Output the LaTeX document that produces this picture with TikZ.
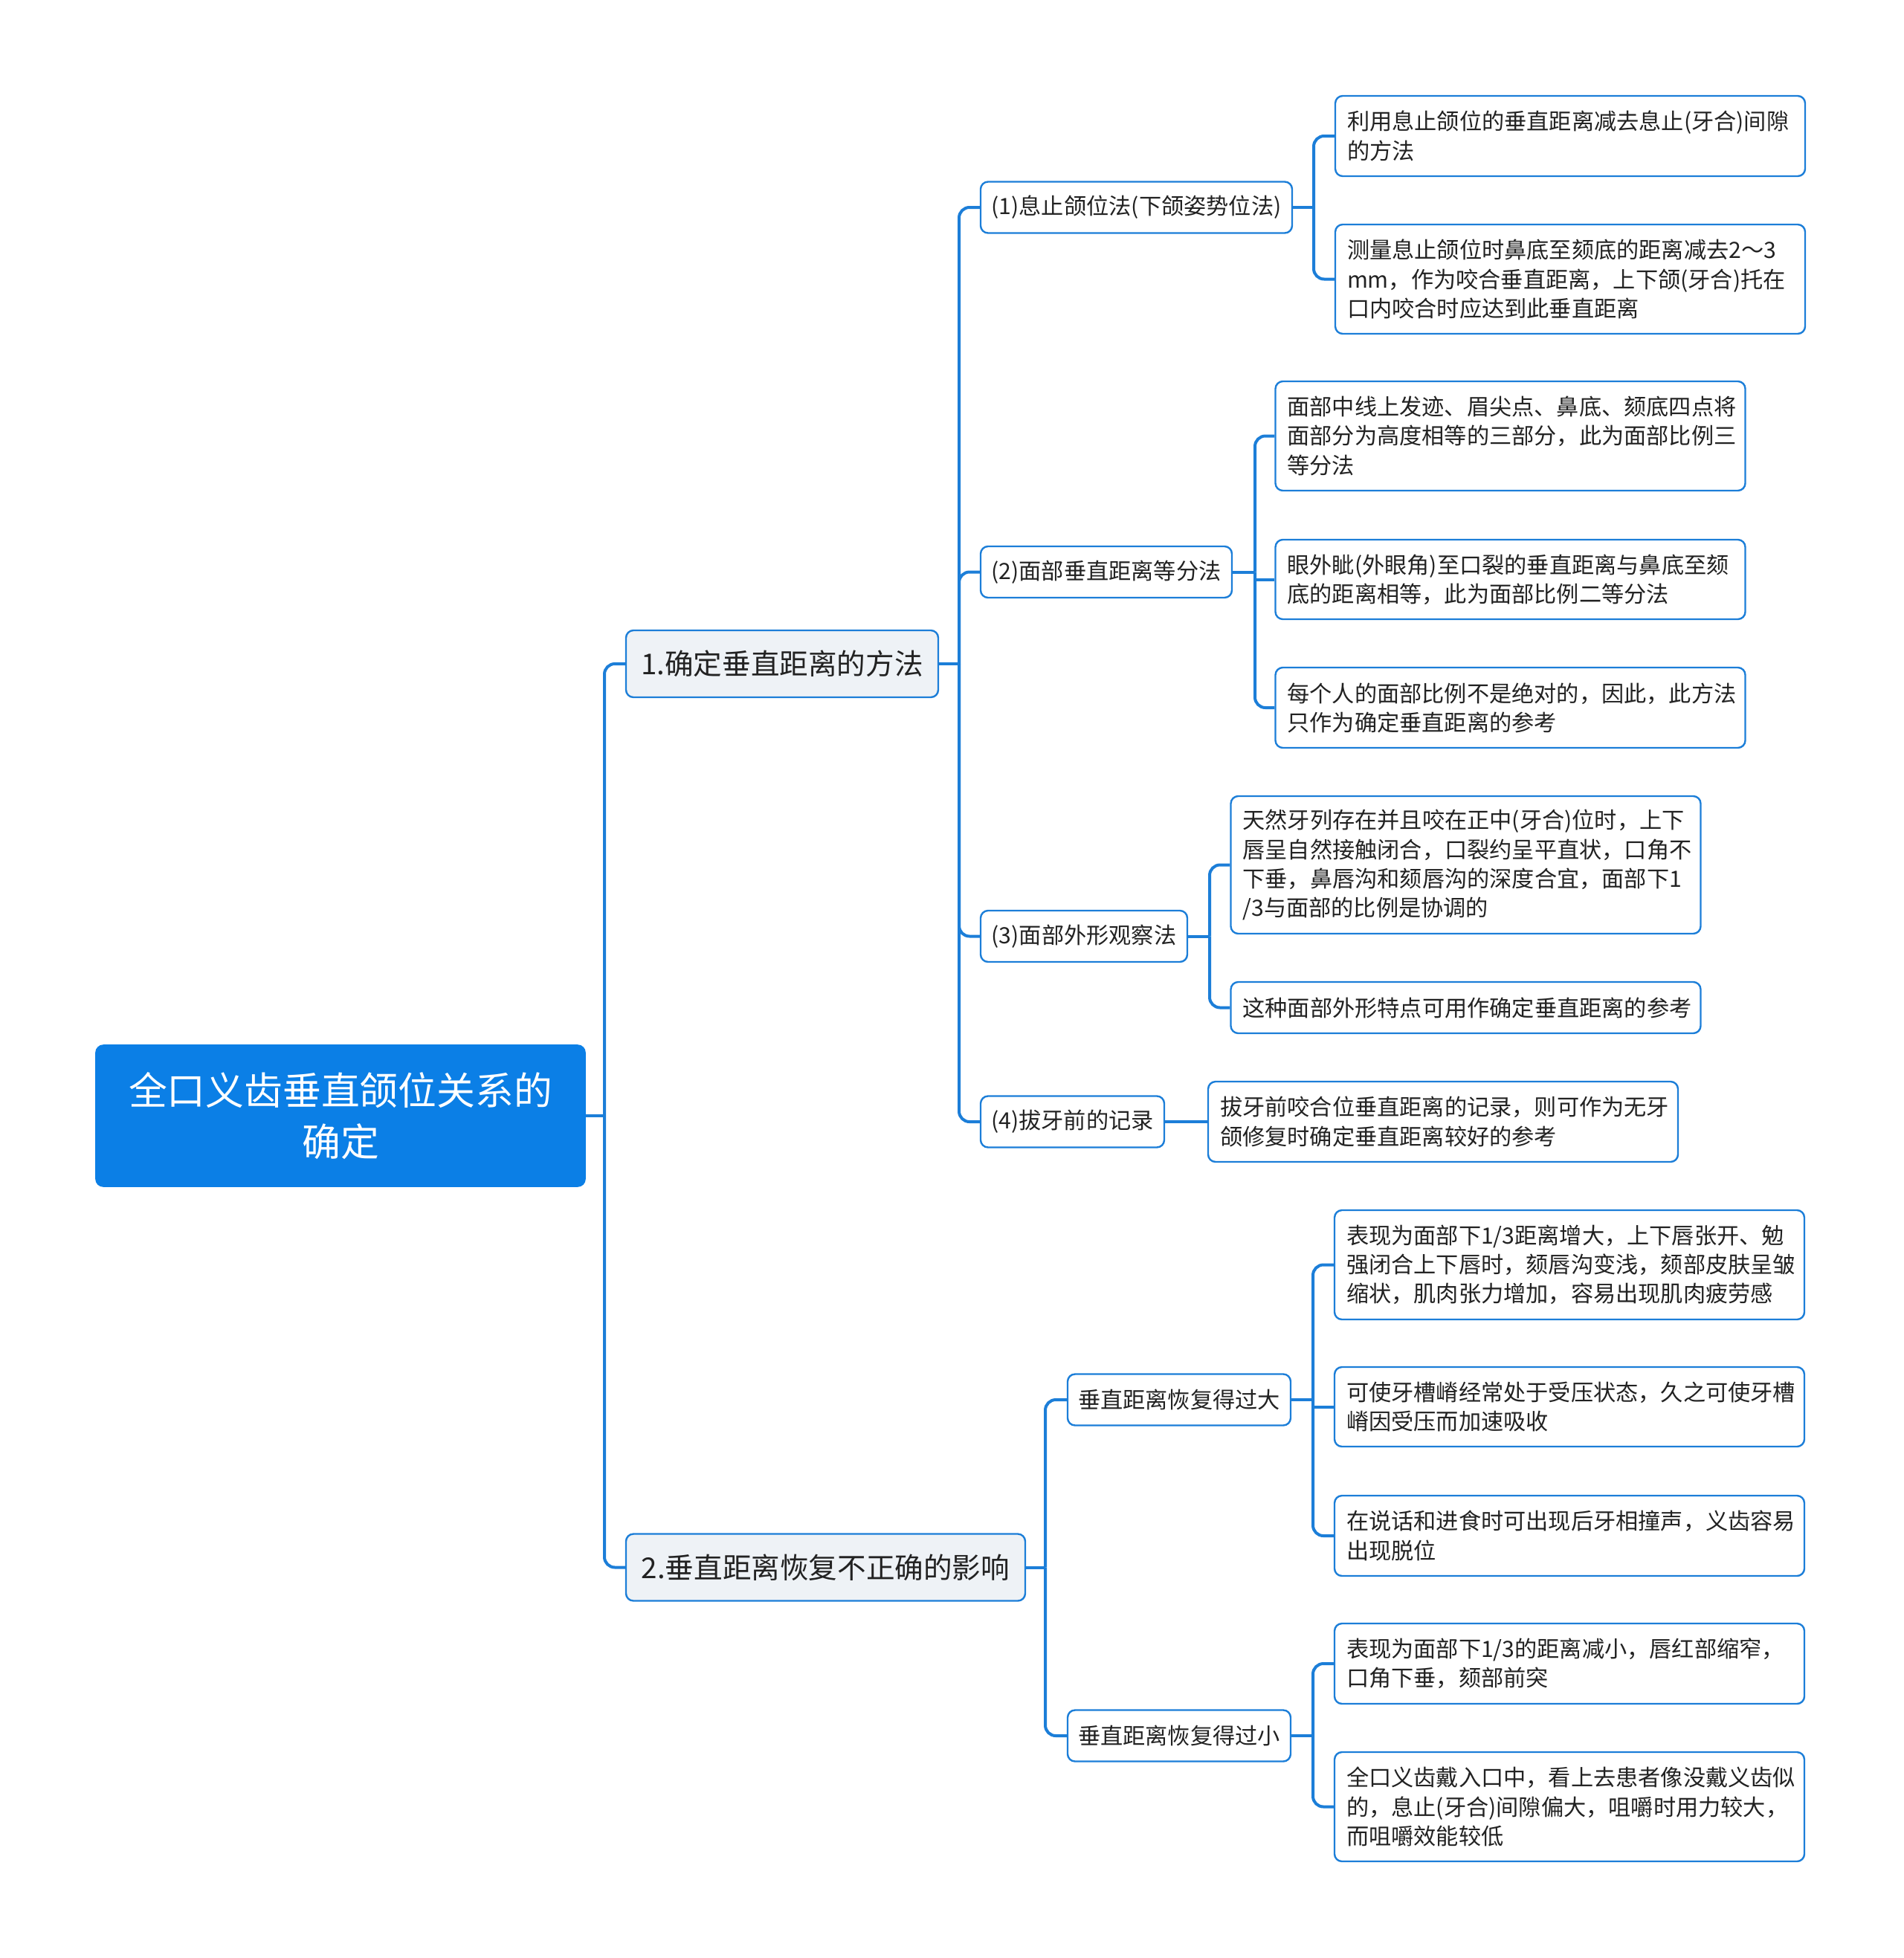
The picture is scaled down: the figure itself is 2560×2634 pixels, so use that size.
\documentclass[tikz,border=0pt]{standalone}
\usepackage{fontspec}
\setmainfont{Noto Sans CJK SC}
\definecolor{mblue}{HTML}{0B7FE6}
\definecolor{lblue}{HTML}{1C7ED8}
\definecolor{lonefill}{HTML}{EEF2F6}
\definecolor{txt}{HTML}{222222}
\begin{document}
\begin{tikzpicture}[x=0.25pt,y=-0.25pt,
  conn/.style={draw=lblue,line width=1pt,rounded corners=3.5pt},
  rootbox/.style={fill=mblue,draw=mblue,rounded corners=2.5pt,text=white,
    font=\fontsize{12.95pt}{17.2pt}\selectfont,align=center,
    minimum width=164.5pt,minimum height=47.5pt,inner sep=0pt},
  lone/.style={fill=lonefill,draw=lblue,line width=0.6pt,rounded corners=2.5pt,text=txt,
    font=\fontsize{9.65pt}{12pt}\selectfont,minimum height=22.5pt,inner sep=0pt},
  ltwo/.style={fill=white,draw=lblue,line width=0.6pt,rounded corners=2.5pt,text=txt,
    font=\fontsize{7.55pt}{9.8pt}\selectfont,minimum height=17.25pt,inner sep=0pt},
  lthree/.style={fill=white,draw=lblue,line width=0.6pt,rounded corners=2.5pt,text=txt,
    font=\fontsize{7.55pt}{9.8pt}\selectfont,align=left,text width=150pt,
    inner xsep=4pt,inner ysep=0pt},
]
\path[use as bounding box] (0,0) rectangle (2560,2634);

% root and level 1
\node[rootbox] (root) at (458,1501) {全口义齿垂直颌位关系的\\确定};
\node[lone,minimum width=105pt] (A) at (1052,893) {1.确定垂直距离的方法};
\node[lone,minimum width=134.25pt] (B) at (1110.5,2108.5) {2.垂直距离恢复不正确的影响};

% level 2
\node[ltwo,minimum width=104.75pt] (n1) at (1528.5,279) {(1)息止颌位法(下颌姿势位法)};
\node[ltwo,minimum width=84.5pt] (n2) at (1488,769.5) {(2)面部垂直距离等分法};
\node[ltwo,minimum width=69.5pt] (n3) at (1458,1259.5) {(3)面部外形观察法};
\node[ltwo,minimum width=61.75pt] (n4) at (1442.5,1509) {(4)拔牙前的记录};
\node[ltwo,minimum width=75pt] (n5) at (1586,1883) {垂直距离恢复得过大};
\node[ltwo,minimum width=75pt] (n6) at (1586,2335) {垂直距离恢复得过小};

% level 3
\node[lthree,minimum height=27pt] (c11) at (2112,183) {利用息止颌位的垂直距离减去息止(牙合)间隙\\的方法};
\node[lthree,minimum height=36.75pt] (c12) at (2112,375.5) {测量息止颌位时鼻底至颏底的距离减去2～3\\mm，作为咬合垂直距离，上下颌(牙合)托在\\口内咬合时应达到此垂直距离};
\node[lthree,minimum height=36.75pt] (c21) at (2031.5,586.5) {面部中线上发迹、眉尖点、鼻底、颏底四点将\\面部分为高度相等的三部分，此为面部比例三\\等分法};
\node[lthree,minimum height=26.75pt] (c22) at (2031.5,779.5) {眼外眦(外眼角)至口裂的垂直距离与鼻底至颏\\底的距离相等，此为面部比例二等分法};
\node[lthree,minimum height=27pt] (c23) at (2031.5,952) {每个人的面部比例不是绝对的，因此，此方法\\只作为确定垂直距离的参考};
\node[lthree,minimum height=46.25pt] (c31) at (1971.5,1163.5) {天然牙列存在并且咬在正中(牙合)位时，上下\\唇呈自然接触闭合，口裂约呈平直状，口角不\\下垂，鼻唇沟和颏唇沟的深度合宜，面部下1\\/3与面部的比例是协调的};
\node[lthree,minimum height=17.25pt] (c32) at (1971.5,1355.5) {这种面部外形特点可用作确定垂直距离的参考};
\node[lthree,minimum height=27pt] (c41) at (1941,1509) {拔牙前咬合位垂直距离的记录，则可作为无牙\\颌修复时确定垂直距离较好的参考};
\node[lthree,minimum height=36.75pt] (c51) at (2111,1701.5) {表现为面部下1/3距离增大，上下唇张开、勉\\强闭合上下唇时，颏唇沟变浅，颏部皮肤呈皱\\缩状，肌肉张力增加，容易出现肌肉疲劳感};
\node[lthree,minimum height=26.75pt] (c52) at (2111,1892.5) {可使牙槽嵴经常处于受压状态，久之可使牙槽\\嵴因受压而加速吸收};
\node[lthree,minimum height=27pt] (c53) at (2111,2066) {在说话和进食时可出现后牙相撞声，义齿容易\\出现脱位};
\node[lthree,minimum height=27pt] (c61) at (2111,2238) {表现为面部下1/3的距离减小，唇红部缩窄，\\口角下垂，颏部前突};
\node[lthree,minimum height=36.75pt] (c62) at (2111,2430.5) {全口义齿戴入口中，看上去患者像没戴义齿似\\的，息止(牙合)间隙偏大，咀嚼时用力较大，\\而咀嚼效能较低};

% junction coordinates
\coordinate (j0) at (813,1501);
\coordinate (jA) at (1290,893);
\coordinate (jB) at (1406,2108.5);
\coordinate (j1) at (1767,279);
\coordinate (j2) at (1688,769.5);
\coordinate (j3) at (1627,1259.5);
\coordinate (j5) at (1766,1883);
\coordinate (j6) at (1766,2335);

% connectors
\draw[conn] (root.east) -- (j0);
\draw[conn] (j0) |- (A.west);
\draw[conn] (j0) |- (B.west);

\draw[conn] (A.east) -- (jA);
\draw[conn] (jA) |- (n1.west);
\draw[conn] (jA) |- (n2.west);
\draw[conn] (jA) |- (n3.west);
\draw[conn] (jA) |- (n4.west);

\draw[conn] (B.east) -- (jB);
\draw[conn] (jB) |- (n5.west);
\draw[conn] (jB) |- (n6.west);

\draw[conn] (n1.east) -- (j1);
\draw[conn] (j1) |- (c11.west);
\draw[conn] (j1) |- (c12.west);

\draw[conn] (n2.east) -- (j2);
\draw[conn] (j2) |- (c21.west);
\draw[conn,sharp corners] (j2) |- (c22.west);
\draw[conn] (j2) |- (c23.west);

\draw[conn] (n3.east) -- (j3);
\draw[conn] (j3) |- (c31.west);
\draw[conn] (j3) |- (c32.west);

\draw[conn] (n4.east) -- (c41.west);

\draw[conn] (n5.east) -- (j5);
\draw[conn] (j5) |- (c51.west);
\draw[conn,sharp corners] (j5) |- (c52.west);
\draw[conn] (j5) |- (c53.west);

\draw[conn] (n6.east) -- (j6);
\draw[conn] (j6) |- (c61.west);
\draw[conn] (j6) |- (c62.west);
\end{tikzpicture}
\end{document}
